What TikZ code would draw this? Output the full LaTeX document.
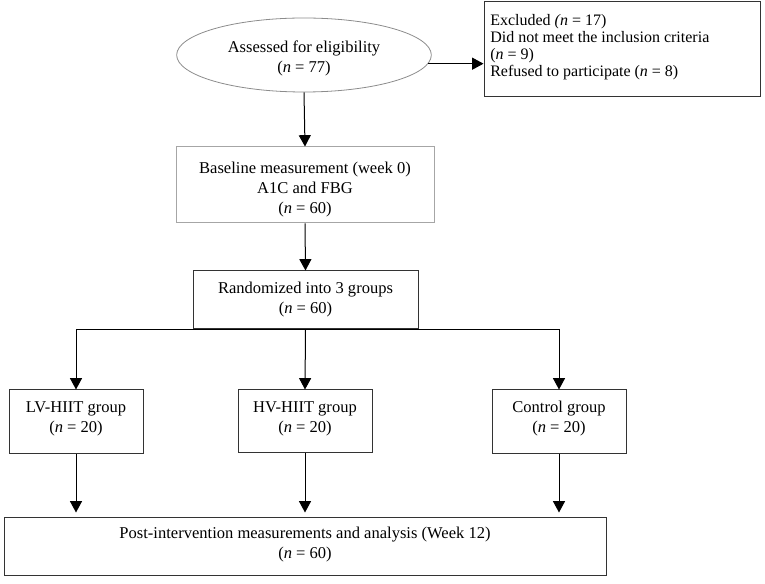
\documentclass[tikz,border=0pt]{standalone}
\usepackage{fontspec}
\setmainfont{Liberation Serif}
\usetikzlibrary{arrows.meta,shapes.geometric}
\begin{document}
\begin{tikzpicture}[x=0.75pt,y=-0.75pt,
  font=\fontsize{12.4}{15}\selectfont,
  box/.style={draw=black!80, line width=0.75pt, inner sep=0pt},
  txt/.style={inner sep=0pt, align=center},
  arr/.style={-{Triangle[width=9pt,length=8.5pt]}, line width=0.75pt},
  ln/.style={line width=0.75pt}]
\useasboundingbox (0,0) rectangle (765,584);
% shapes
\node[draw=black!45, line width=0.6pt, ellipse, inner sep=0pt, minimum width=191pt, minimum height=55.5pt] (ell) at (304,55) {};
\node[box, minimum width=207pt, minimum height=71.25pt] (exc) at (622,49.5) {};
\node[box, draw=black!35, minimum width=193.5pt, minimum height=57pt] (base) at (305,185) {};
\node[box, minimum width=168.75pt, minimum height=43.5pt] (rand) at (305.5,300) {};
\node[box, minimum width=100.5pt, minimum height=48pt] (lv) at (76,422) {};
\node[box, minimum width=100.5pt, minimum height=47.25pt] (hv) at (305,421.5) {};
\node[box, minimum width=100.5pt, minimum height=48pt] (ctl) at (559,422) {};
\node[box, minimum width=451.5pt, minimum height=43.5pt] (post) at (305,547) {};
% texts
\node[txt] (ellt) at (304,58.5) {Assessed for eligibility\\(\textit{n} = 77)};
\node[txt, anchor=west, align=left, font=\fontsize{12}{12.6}\selectfont] (exct) at (490,47) {Excluded \textit{(n} = 17)\\Did not meet the inclusion criteria\\(\textit{n} = 9)\\Refused to participate (\textit{n} = 8)};
\node[txt] (baset) at (305,189.5) {Baseline measurement (week 0)\\A1C and FBG\\(\textit{n} = 60)};
\node[txt] (randt) at (305.5,300) {Randomized into 3 groups\\(\textit{n} = 60)};
\node[txt] (lvt) at (76,419) {LV-HIIT group\\(\textit{n} = 20)};
\node[txt] (hvt) at (305,419) {HV-HIIT group\\(\textit{n} = 20)};
\node[txt] (ctlt) at (559,419) {Control group\\(\textit{n} = 20)};
\node[txt] (postt) at (305,545) {Post-intervention measurements and analysis (Week 12)\\(\textit{n} = 60)};
% connectors
\draw[arr] (ell.-4.7) -- (exc.west |- ell.-4.7);
\draw[arr] (ell.south) -- (base.north);
\draw[arr] (base.south) -- (rand.north);
\draw[ln] (lv.north |- rand.south) -- (ctl.north |- rand.south);
\draw[arr] (lv.north |- rand.south) -- (lv.north);
\draw[arr] (rand.south) -- (hv.north);
\draw[arr] (ctl.north |- rand.south) -- (ctl.north);
\draw[arr, shorten >=3.75pt] (lv.south) -- (lv.south |- post.north);
\draw[arr, shorten >=3.75pt] (hv.south) -- (hv.south |- post.north);
\draw[arr, shorten >=3.75pt] (ctl.south) -- (ctl.south |- post.north);
\end{tikzpicture}
\end{document}
